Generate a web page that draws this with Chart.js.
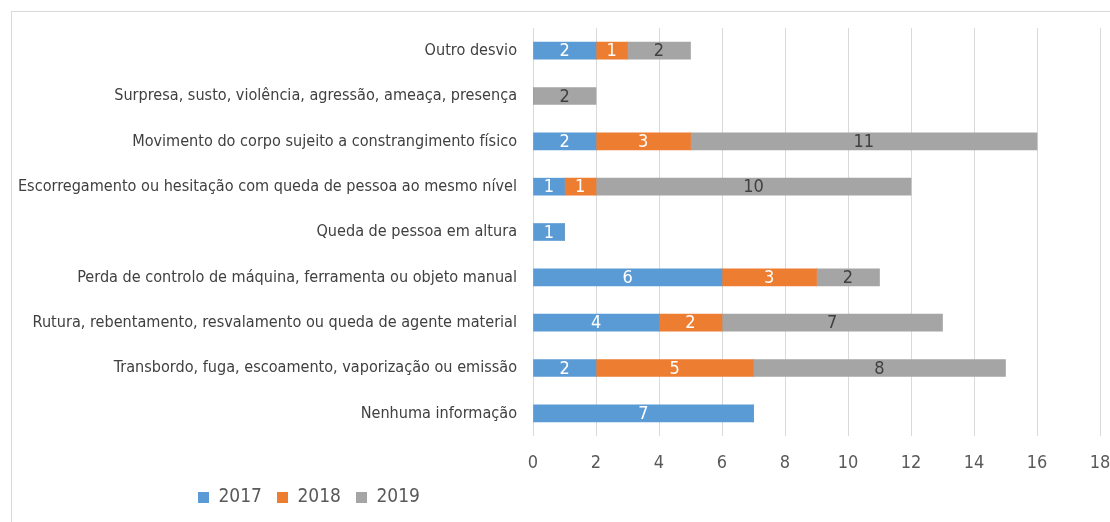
<!DOCTYPE html>
<html>
<head>
<meta charset="utf-8">
<script src="https://cdn.jsdelivr.net/npm/chart.js@4"></script>
<style>
  html, body { margin: 0; padding: 0; background: #fff; overflow: hidden; }
  #frame { position: absolute; left: 11px; top: 11px; width: 1200px; height: 600px; border: 1px solid #d9d9d9; }
  #wrap { position: absolute; left: 0; top: 0; width: 1110px; height: 522px; }
</style>
</head>
<body>
<div id="frame"></div>
<div id="wrap"><canvas id="chart" width="1110" height="522"></canvas></div>
<script>
// Categorias (de cima para baixo)
const categorias = [
    'Outro desvio',
    'Surpresa, susto, violência, agressão, ameaça, presença',
    'Movimento do corpo sujeito a constrangimento físico',
    'Escorregamento ou hesitação com queda de pessoa ao mesmo nível',
    'Queda de pessoa em altura',
    'Perda de controlo de máquina, ferramenta ou objeto manual',
    'Rutura, rebentamento, resvalamento ou queda de agente material',
    'Transbordo, fuga, escoamento, vaporização ou emissão',
    'Nenhuma informação'
];
const valores2017 = [2, 0, 2, 1, 1, 6, 4, 2, 7];
const valores2018 = [1, 0, 3, 1, 0, 3, 2, 5, 0];
const valores2019 = [2, 2, 11, 10, 0, 2, 7, 8, 0];
const ticksX = [0, 2, 4, 6, 8, 10, 12, 14, 16, 18];

const FONTE = "'Liberation Sans Narrow', 'DejaVu Sans Condensed', sans-serif";

// Plugin simples para escrever o valor no centro de cada barra
const rotulosBarras = {
    id: 'rotulosBarras',
    afterLayout(chart) {
        // deslocar a legenda para a direita, como no original
        if (chart.legend) chart.legend.left = 183;
    },
    afterDatasetsDraw(chart) {
        const ctx = chart.ctx;
        ctx.save();
        ctx.font = '18px ' + FONTE;
        ctx.textAlign = 'center';
        ctx.textBaseline = 'middle';
        chart.data.datasets.forEach((ds, i) => {
            const meta = chart.getDatasetMeta(i);
            meta.data.forEach((bar, j) => {
                const v = ds.data[j];
                if (!v) return;
                ctx.fillStyle = ds.labelColor;
                ctx.fillText(String(v), (bar.x + bar.base) / 2, bar.y + 1);
            });
        });
        ctx.restore();
    }
};

const ctx = document.getElementById('chart').getContext('2d');
new Chart(ctx, {
    type: 'bar',
    data: {
        labels: categorias,
        datasets: [
            { label: '2017', data: valores2017, backgroundColor: '#5b9bd5', labelColor: '#ffffff' },
            { label: '2018', data: valores2018, backgroundColor: '#ed7d31', labelColor: '#ffffff' },
            { label: '2019', data: valores2019, backgroundColor: '#a5a5a5', labelColor: '#404040' }
        ]
    },
    options: {
        indexAxis: 'y',
        responsive: false,
        animation: false,
        layout: { padding: { left: 0, right: 10, top: 28, bottom: 5 } },
        datasets: { bar: { barThickness: 17, borderWidth: 0 } },
        plugins: {
            tooltip: { enabled: false },
            legend: {
                position: 'bottom',
                align: 'start',
                labels: {
                    boxWidth: 11,
                    boxHeight: 11,
                    padding: 15,
                    color: '#595959',
                    font: { family: FONTE, size: 19 }
                }
            }
        },
        scales: {
            x: {
                stacked: true,
                min: 0,
                max: 18,
                afterBuildTicks(scale) {
                    scale.ticks = ticksX.map(v => ({ value: v }));
                },
                afterFit(scale) {
                    scale.height = 37;
                    scale.paddingRight = 0;
                    scale.paddingLeft = 0;
                },
                grid: { color: '#d9d9d9', drawTicks: false },
                border: { display: false },
                ticks: { padding: 17, color: '#595959', font: { family: FONTE, size: 18 } }
            },
            y: {
                stacked: true,
                afterFit(scale) { scale.width = 533; },
                grid: { display: false, drawTicks: false },
                border: { display: false },
                ticks: { padding: 16, color: '#404040', font: { family: FONTE, size: 16.1 } }
            }
        }
    },
    plugins: [rotulosBarras]
});
</script>
</body>
</html>
